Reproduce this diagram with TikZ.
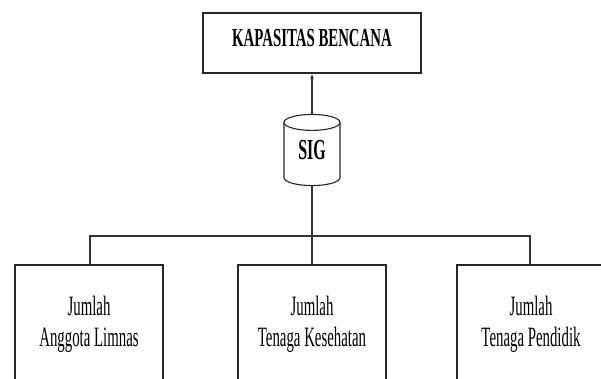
\documentclass[tikz,border=0pt]{standalone}
\usepackage{fontspec}
\setmainfont[FakeStretch=0.57]{Liberation Serif}
\newfontfamily\condreg[FakeStretch=0.53]{Liberation Serif}
\newfontfamily\condsig[FakeStretch=0.55]{Liberation Serif}
\usetikzlibrary{arrows.meta}
\begin{document}
\begin{tikzpicture}[x=1pt,y=1pt,
  line width=1.2pt, draw=black!85,
  box/.style={draw, line width=1.3pt, inner sep=0pt},
  lowbox/.style={box, minimum width=148, minimum height=118, align=center,
    font=\condreg\fontsize{28}{31}\selectfont},
  conn/.style={line width=1.1pt, draw=black!80}]
\useasboundingbox (0,0) rectangle (601,378);
\clip (0,0) rectangle (601,378);
% top box
\node[box, minimum width=218, minimum height=60] (kb) at (312,335) {};
\node[font=\fontsize{26}{30}\selectfont\bfseries, inner sep=0pt] (kbt) at ([yshift=5]kb.center) {KAPASITAS BENCANA};
% cylinder
\node[minimum width=56, minimum height=70, inner sep=0pt, font=\condsig\fontsize{29}{30}\selectfont\bfseries] (sig) at (312,228) {SIG};
\path (sig.north) ++(0,-8) coordinate (ct);
\path (sig.south) ++(0,8) coordinate (cb);
\draw[line width=1.1pt] (ct) ellipse [x radius=28, y radius=8];
\draw[line width=1.1pt] ([xshift=-28]ct) -- ([xshift=-28]cb) arc[start angle=180, end angle=360, x radius=28, y radius=8] -- ([xshift=28]ct);
% arrow
\draw[conn, -{Latex[length=5pt,width=4pt]}] (sig.north) -- (kb.south);
% bottom boxes
\node[lowbox] (la) at (89,54) {Jumlah\\Anggota Limnas};
\node[lowbox] (lb) at (312,54) {Jumlah\\Tenaga Kesehatan};
\node[lowbox] (lc) at (531,54) {Jumlah\\Tenaga Pendidik};
\coordinate (j) at (312,142);
\draw[conn] (sig.south) -- (lb.north);
\draw[conn] ([xshift=1]la.north) |- (j) -| ([xshift=-1]lc.north);
\end{tikzpicture}
\end{document}
